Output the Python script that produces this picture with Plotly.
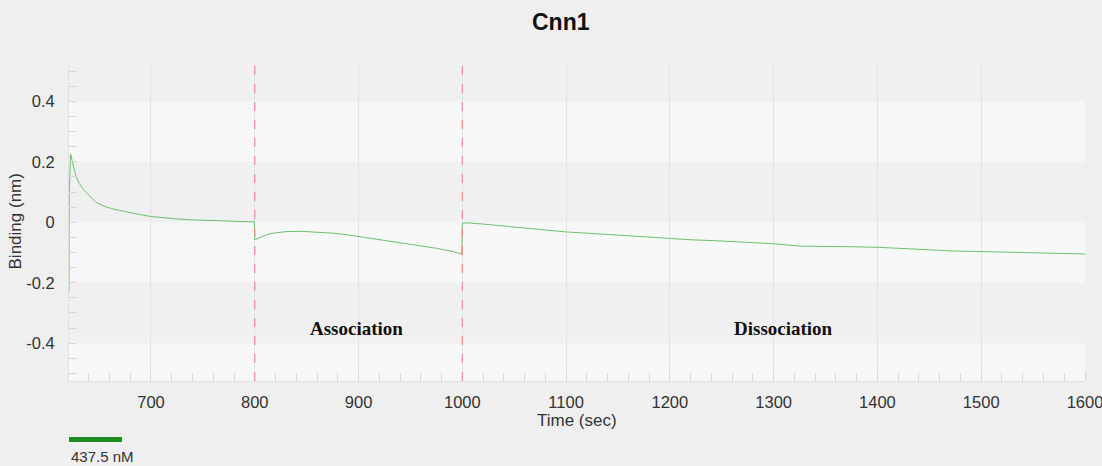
import plotly.graph_objects as go

# ---- data ----
time_baseline = [621, 621.2, 622.6, 624, 626, 628, 631, 635, 640, 647, 655, 662, 670, 680, 690,
                 700, 712, 725, 740, 755, 770, 785, 799.5]
bind_baseline = [-0.23, 0.10, 0.225, 0.20, 0.175, 0.15, 0.128, 0.108, 0.090, 0.066, 0.053, 0.045,
                 0.039, 0.031, 0.025, 0.019, 0.014, 0.011, 0.008, 0.006, 0.004, 0.002, 0.001]

time_assoc = [800, 802, 806, 812, 820, 830, 845, 860, 875, 890, 900, 915, 930, 945, 960, 975,
              990, 999.5]
bind_assoc = [-0.058, -0.055, -0.048, -0.040, -0.035, -0.031, -0.030, -0.032, -0.036, -0.042,
              -0.047, -0.055, -0.062, -0.069, -0.077, -0.086, -0.096, -0.105]

time_dissoc = [1000, 1005, 1020, 1040, 1068, 1100, 1130, 1148, 1175, 1196, 1220, 1244, 1277,
               1300, 1325, 1350, 1375, 1402, 1430, 1450, 1472, 1500, 1539, 1570, 1587, 1600]
bind_dissoc = [-0.003, -0.002, -0.006, -0.013, -0.022, -0.032, -0.038, -0.042, -0.049, -0.055,
               -0.058, -0.061, -0.068, -0.071, -0.079, -0.079, -0.081, -0.083, -0.088, -0.091,
               -0.095, -0.097, -0.100, -0.102, -0.104, -0.105]

step_times = [800, 1000]
phase_labels = ["Association", "Dissociation"]
phase_label_x = [898, 1309]
phase_label_y = -0.351
y_ticks = [-0.4, -0.2, 0, 0.2, 0.4]
y_tick_text = ["-0.4", "-0.2", "0", "0.2", "0.4"]
x_ticks = [700, 800, 900, 1000, 1100, 1200, 1300, 1400, 1500, 1600]
dark_bands = [(0.4, 0.53), (0.0, 0.2), (-0.4, -0.2)]
series_name = "437.5 nM"

x_range = [621, 1600]
y_range = [-0.525, 0.53]

time_all = time_baseline + time_assoc + time_dissoc
bind_all = bind_baseline + bind_assoc + bind_dissoc

fig = go.Figure()
fig.add_trace(go.Scatter(x=time_all, y=bind_all, mode="lines", name=series_name,
                         line=dict(color="#6cc06c", width=1), showlegend=False))

shapes = []
for y0, y1 in dark_bands:
    shapes.append(dict(type="rect", xref="paper", yref="y", x0=0, x1=1, y0=y0, y1=y1,
                       fillcolor="#f0f0f0", line=dict(width=0), layer="below"))
for t in step_times:
    shapes.append(dict(type="line", xref="x", yref="paper", x0=t, x1=t, y0=0, y1=1,
                       line=dict(color="#f08a8a", width=1.2, dash="dash")))
# legend swatch
shapes.append(dict(type="line", xref="paper", yref="paper", x0=0, x1=53 / 1016,
                   y0=-0.1834, y1=-0.1834, line=dict(color="#1e8c1e", width=5)))

annotations = []
for lab, lx in zip(phase_labels, phase_label_x):
    annotations.append(dict(x=lx, y=phase_label_y, xref="x", yref="y", text="<b>" + lab + "</b>",
                            showarrow=False, xanchor="center", yanchor="middle",
                            font=dict(family="Liberation Serif", size=19, color="#111111")))
annotations.append(dict(x=0.484, y=1.125, xref="paper", yref="paper", text="<b>Cnn1</b>",
                        showarrow=False, xanchor="center", yanchor="middle",
                        font=dict(family="Liberation Sans", size=23, color="#111")))
annotations.append(dict(x=0.5, y=-0.125, xref="paper", yref="paper", text="Time (sec)",
                        showarrow=False, xanchor="center", yanchor="middle",
                        font=dict(family="Liberation Sans", size=17, color="#333")))
annotations.append(dict(x=-0.0522, y=0.5, xref="paper", yref="paper", text="Binding (nm)",
                        textangle=-90, showarrow=False, xanchor="center", yanchor="middle",
                        font=dict(family="Liberation Sans", size=17, color="#333")))
annotations.append(dict(x=0, y=-0.236, xref="paper", yref="paper", text=series_name,
                        xanchor="left", yanchor="middle", showarrow=False,
                        font=dict(family="Liberation Sans", size=15, color="#333")))

fig.update_layout(
    width=1102, height=466, autosize=False,
    margin=dict(l=69, r=17, t=62, b=85, autoexpand=False),
    paper_bgcolor="#efefef",
    plot_bgcolor="#f7f7f7",
    shapes=shapes,
    annotations=annotations,
    font=dict(family="Liberation Sans", size=16.5, color="#333"),
    xaxis=dict(range=x_range, tickvals=x_ticks, showgrid=True, gridcolor="#e3e3e3",
               zeroline=False, ticks="", showline=True, linecolor="#e0e0e0",
               ticklabelstandoff=6, ticklabeloverflow="allow",
               minor=dict(dtick=20, tick0=620, ticks="inside", ticklen=8, tickcolor="#d6d6d6",
                          showgrid=False)),
    yaxis=dict(range=y_range, tickvals=y_ticks, ticktext=y_tick_text, showgrid=False,
               zeroline=False, ticks="", showline=True, linecolor="#e0e0e0",
               ticklabelstandoff=10,
               minor=dict(dtick=0.05, tick0=0, ticks="inside", ticklen=8, tickcolor="#d6d6d6",
                          showgrid=False)),
)

fig.write_html("out.html", config={"displayModeBar": False, "responsive": False})

# remove the default page margin so the figure sits at the window's top-left corner
with open("out.html", "r", encoding="utf-8") as f:
    html = f.read()
html = html.replace("<head>", "<head><style>html,body{margin:0;padding:0;overflow:hidden;}</style>", 1)
with open("out.html", "w", encoding="utf-8") as f:
    f.write(html)
